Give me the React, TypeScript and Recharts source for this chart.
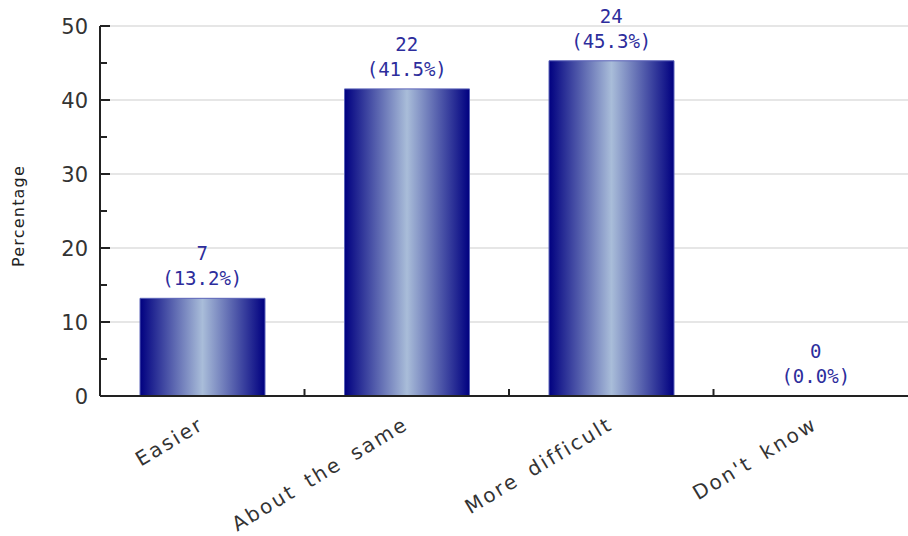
import React from "react";
import { ComposedChart, Bar, Line, XAxis, YAxis, CartesianGrid, LabelList } from "recharts";

const categories = ["Easier", "About the same", "More difficult", "Don't know"];
const percentages = [13.2, 41.5, 45.3, 0];
const counts = [7, 22, 24, 0];
const yTicks = [0, 5, 10, 15, 20, 25, 30, 35, 40, 45, 50];
const gridValues = [10, 20, 30, 40, 50];

const data = categories.map((name, i) => ({
  name,
  pct: percentages[i],
  count: counts[i],
}));

const AXIS = "#222";
const LABEL_BLUE = "#2d2d9c";

function YTick(props: any) {
  const { x, y, payload } = props;
  const v = payload.value as number;
  const major = v % 10 === 0;
  const ax = x + 12;
  return (
    <g>
      <line x1={ax} x2={ax + (major ? 10 : 7)} y1={y} y2={y} stroke={AXIS} strokeWidth={2} />
      {major && (
        <text x={x} y={y} dy="0.36em" textAnchor="end" fill="#333"
          style={{ fontFamily: "DejaVu Sans", fontSize: 21 }}>
          {v}
        </text>
      )}
    </g>
  );
}

function XTick(props: any) {
  const { x, y, payload } = props;
  const half = payload.offset ?? 102;
  const last = payload.index === categories.length - 1;
  const lx = x + 3;
  const ly = y + 32;
  return (
    <g>
      {!last && (
        <line x1={x + half} x2={x + half} y1={y} y2={y - 7} stroke={AXIS} strokeWidth={2} />
      )}
      <text x={lx} y={ly} textAnchor="end" fill="#333" transform={`rotate(-31 ${lx} ${ly})`}
        style={{ fontFamily: "DejaVu Sans", fontSize: 20, letterSpacing: 2.3, wordSpacing: 5 }}>
        {payload.value}
      </text>
    </g>
  );
}

// labels hang off an invisible line so the zero-height bar still gets one
function ValueLabel(props: any) {
  const { x, y, index } = props;
  const d = data[index];
  return (
    <g style={{ fontFamily: "DejaVu Sans Mono", fontSize: 19 }} fill={LABEL_BLUE}>
      <text x={x} y={y - 38} textAnchor="middle">{d.count}</text>
      <text x={x} y={y - 13} textAnchor="middle">({d.pct.toFixed(1)}%)</text>
    </g>
  );
}

export default function App() {
  return (
    <div style={{ position: "absolute", left: 0, top: 0, width: 908, height: 536, overflow: "hidden", background: "#fff" }}>
      <ComposedChart
        width={918}
        height={536}
        data={data}
        margin={{ top: 26, right: 0, left: 0, bottom: 0 }}
      >
        <defs>
          <linearGradient id="barGrad" x1="0" y1="0" x2="1" y2="0">
            <stop offset="0" stopColor="#000080" />
            <stop offset="0.5" stopColor="#a9bdd9" />
            <stop offset="1" stopColor="#000080" />
          </linearGradient>
        </defs>
        <CartesianGrid
          vertical={false}
          horizontalValues={gridValues}
          stroke="#dedede"
          strokeWidth={1.5}
        />
        <XAxis
          dataKey="name"
          height={140}
          interval={0}
          tickSize={0}
          tickMargin={0}
          tickLine={false}
          axisLine={{ stroke: AXIS, strokeWidth: 2 }}
          tick={<XTick />}
        />
        <YAxis
          width={100}
          domain={[0, 50]}
          ticks={yTicks}
          interval={0}
          tickSize={0}
          tickMargin={12}
          tickLine={false}
          axisLine={{ stroke: AXIS, strokeWidth: 2 }}
          tick={<YTick />}
          label={() => (
            <text x={24} y={216} textAnchor="middle" fill="#222" transform="rotate(-90 24 216)"
              style={{ fontFamily: "DejaVu Sans", fontSize: 16, letterSpacing: 1.2 }}>
              Percentage
            </text>
          )}
        />
        <Bar dataKey="pct" barSize={125} fill="url(#barGrad)" stroke="#5a62b8" strokeWidth={1}
          isAnimationActive={false} />
        <Line dataKey="pct" stroke="none" dot={false} activeDot={false} isAnimationActive={false}>
          <LabelList dataKey="pct" content={<ValueLabel />} />
        </Line>
      </ComposedChart>
    </div>
  );
}
